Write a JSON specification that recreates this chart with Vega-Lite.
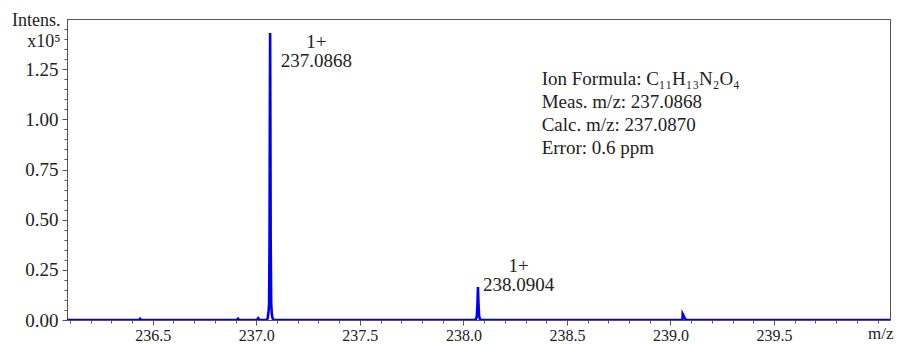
{
  "$schema": "https://vega.github.io/schema/vega-lite/v6.json",
  "width": 823,
  "height": 301,
  "autosize": {"type": "none"},
  "padding": {"left": 67, "top": 19, "right": 8, "bottom": 25},
  "background": "white",
  "config": {
    "view": {"stroke": "#555555", "strokeWidth": 1},
    "font": "Liberation Serif"
  },
  "datasets": {
    "spectrum": [
      {"mz": 236.086, "intensity": 0},
      {"mz": 236.434, "intensity": 0},
      {"mz": 236.439, "intensity": 0.006},
      {"mz": 236.444, "intensity": 0},
      {"mz": 236.906, "intensity": 0},
      {"mz": 236.912, "intensity": 0.007},
      {"mz": 236.918, "intensity": 0},
      {"mz": 237.003, "intensity": 0},
      {"mz": 237.009, "intensity": 0.009},
      {"mz": 237.015, "intensity": 0},
      {"mz": 237.050, "intensity": 0},
      {"mz": 237.055, "intensity": 0.01},
      {"mz": 237.059, "intensity": 0.04},
      {"mz": 237.062, "intensity": 0.08},
      {"mz": 237.064, "intensity": 0.4},
      {"mz": 237.0655, "intensity": 1.0},
      {"mz": 237.0668, "intensity": 1.43},
      {"mz": 237.068, "intensity": 1.0},
      {"mz": 237.0695, "intensity": 0.4},
      {"mz": 237.072, "intensity": 0.08},
      {"mz": 237.075, "intensity": 0.03},
      {"mz": 237.079, "intensity": 0.008},
      {"mz": 237.084, "intensity": 0},
      {"mz": 238.055, "intensity": 0},
      {"mz": 238.061, "intensity": 0.005},
      {"mz": 238.065, "intensity": 0.02},
      {"mz": 238.068, "intensity": 0.08},
      {"mz": 238.0704, "intensity": 0.164},
      {"mz": 238.073, "intensity": 0.08},
      {"mz": 238.076, "intensity": 0.02},
      {"mz": 238.080, "intensity": 0.005},
      {"mz": 238.086, "intensity": 0},
      {"mz": 239.050, "intensity": 0},
      {"mz": 239.058, "intensity": 0.002},
      {"mz": 239.059, "intensity": 0.03},
      {"mz": 239.063, "intensity": 0.022},
      {"mz": 239.068, "intensity": 0.01},
      {"mz": 239.074, "intensity": 0.002},
      {"mz": 239.080, "intensity": 0},
      {"mz": 240.060, "intensity": 0}
    ],
    "peaklabels": [
      {"lx": 237.290, "ly": 1.43, "label": "1+\n237.0868"},
      {"lx": 238.267, "ly": 0.314, "label": "1+\n238.0904"}
    ],
    "info": [
      {"lx": 238.378, "ly": 1.246, "label": "Ion Formula: C₁₁H₁₃N₂O₄\nMeas. m/z: 237.0868\nCalc. m/z: 237.0870\nError: 0.6 ppm"}
    ]
  },
  "resolve": {"axis": {"x": "independent", "y": "independent"}},
  "layer": [
    {
      "data": {"name": "spectrum"},
      "mark": {"type": "line", "strokeOpacity": 0, "clip": true},
      "encoding": {
        "x": {
          "field": "mz", "type": "quantitative",
          "scale": {"domain": [236.086, 240.06], "nice": false, "zero": false},
          "axis": {
            "orient": "bottom",
            "title": null,
            "values": [236.1,236.2,236.3,236.4,236.5,236.6,236.7,236.8,236.9,237.0,237.1,237.2,237.3,237.4,237.5,237.6,237.7,237.8,237.9,238.0,238.1,238.2,238.3,238.4,238.5,238.6,238.7,238.8,238.9,239.0,239.1,239.2,239.3,239.4,239.5,239.6,239.7,239.8,239.9,240.0],
            "labels": false,
            "domain": false,
            "tickColor": "#555555",
            "tickSize": 3,
            "grid": false
          }
        },
        "y": {
          "field": "intensity", "type": "quantitative",
          "scale": {"domain": [0, 1.5], "nice": false},
          "axis": {
            "orient": "left",
            "title": null,
            "values": [0,0.05,0.1,0.15,0.2,0.25,0.3,0.35,0.4,0.45,0.5,0.55,0.6,0.65,0.7,0.75,0.8,0.85,0.9,0.95,1.0,1.05,1.1,1.15,1.2,1.25,1.3,1.35,1.4,1.45],
            "labels": false,
            "domain": false,
            "tickColor": "#555555",
            "tickSize": 3,
            "grid": false
          }
        }
      }
    },
    {
      "data": {"name": "spectrum"},
      "mark": {"type": "line", "color": "#0000f0", "strokeWidth": 2.6, "clip": true},
      "encoding": {
        "x": {
          "field": "mz", "type": "quantitative",
          "axis": {
            "orient": "bottom",
            "title": "m/z",
            "titleFont": "Liberation Serif",
            "titleFontSize": 17,
            "titleFontWeight": "normal",
            "titleColor": "#222222",
            "titleAnchor": "end",
            "titleAlign": "right",
            "titleBaseline": "alphabetic",
            "titleX": 826,
            "titleY": 18,
            "values": [236.5, 237.0, 237.5, 238.0, 238.5, 239.0, 239.5],
            "format": ".1f",
            "labelFont": "Liberation Serif",
            "labelFontSize": 16,
            "labelColor": "#222222",
            "labelPadding": 2,
            "labelOverlap": false,
            "labelFlush": false,
            "domainColor": "#555555",
            "tickColor": "#555555",
            "tickSize": 5,
            "grid": false
          }
        },
        "y": {
          "field": "intensity", "type": "quantitative",
          "axis": {
            "orient": "left",
            "title": ["Intens.", "x10⁵"],
            "titleFont": "Liberation Serif",
            "titleFontSize": 18,
            "titleFontWeight": "normal",
            "titleColor": "#222222",
            "titleAngle": 0,
            "titleAlign": "right",
            "titleBaseline": "alphabetic",
            "titleLineHeight": 21,
            "titleX": -7,
            "titleY": 6,
            "values": [0, 0.25, 0.5, 0.75, 1.0, 1.25],
            "format": ".2f",
            "labelFont": "Liberation Serif",
            "labelFontSize": 19,
            "labelColor": "#222222",
            "labelPadding": 4,
            "labelOverlap": false,
            "labelFlush": false,
            "domainColor": "#555555",
            "tickColor": "#555555",
            "tickSize": 5,
            "grid": false
          }
        }
      }
    },
    {
      "data": {"name": "peaklabels"},
      "mark": {"type": "text", "align": "center", "baseline": "top", "lineBreak": "\n", "lineHeight": 19, "font": "Liberation Serif", "fontSize": 19, "color": "#222222"},
      "encoding": {
        "x": {"field": "lx", "type": "quantitative", "axis": null},
        "y": {"field": "ly", "type": "quantitative", "axis": null},
        "text": {"field": "label"}
      }
    },
    {
      "data": {"name": "info"},
      "mark": {"type": "text", "align": "left", "baseline": "top", "lineBreak": "\n", "lineHeight": 23, "font": "Liberation Serif", "fontSize": 19, "color": "#222222"},
      "encoding": {
        "x": {"field": "lx", "type": "quantitative", "axis": null},
        "y": {"field": "ly", "type": "quantitative", "axis": null},
        "text": {"field": "label"}
      }
    }
  ]
}
